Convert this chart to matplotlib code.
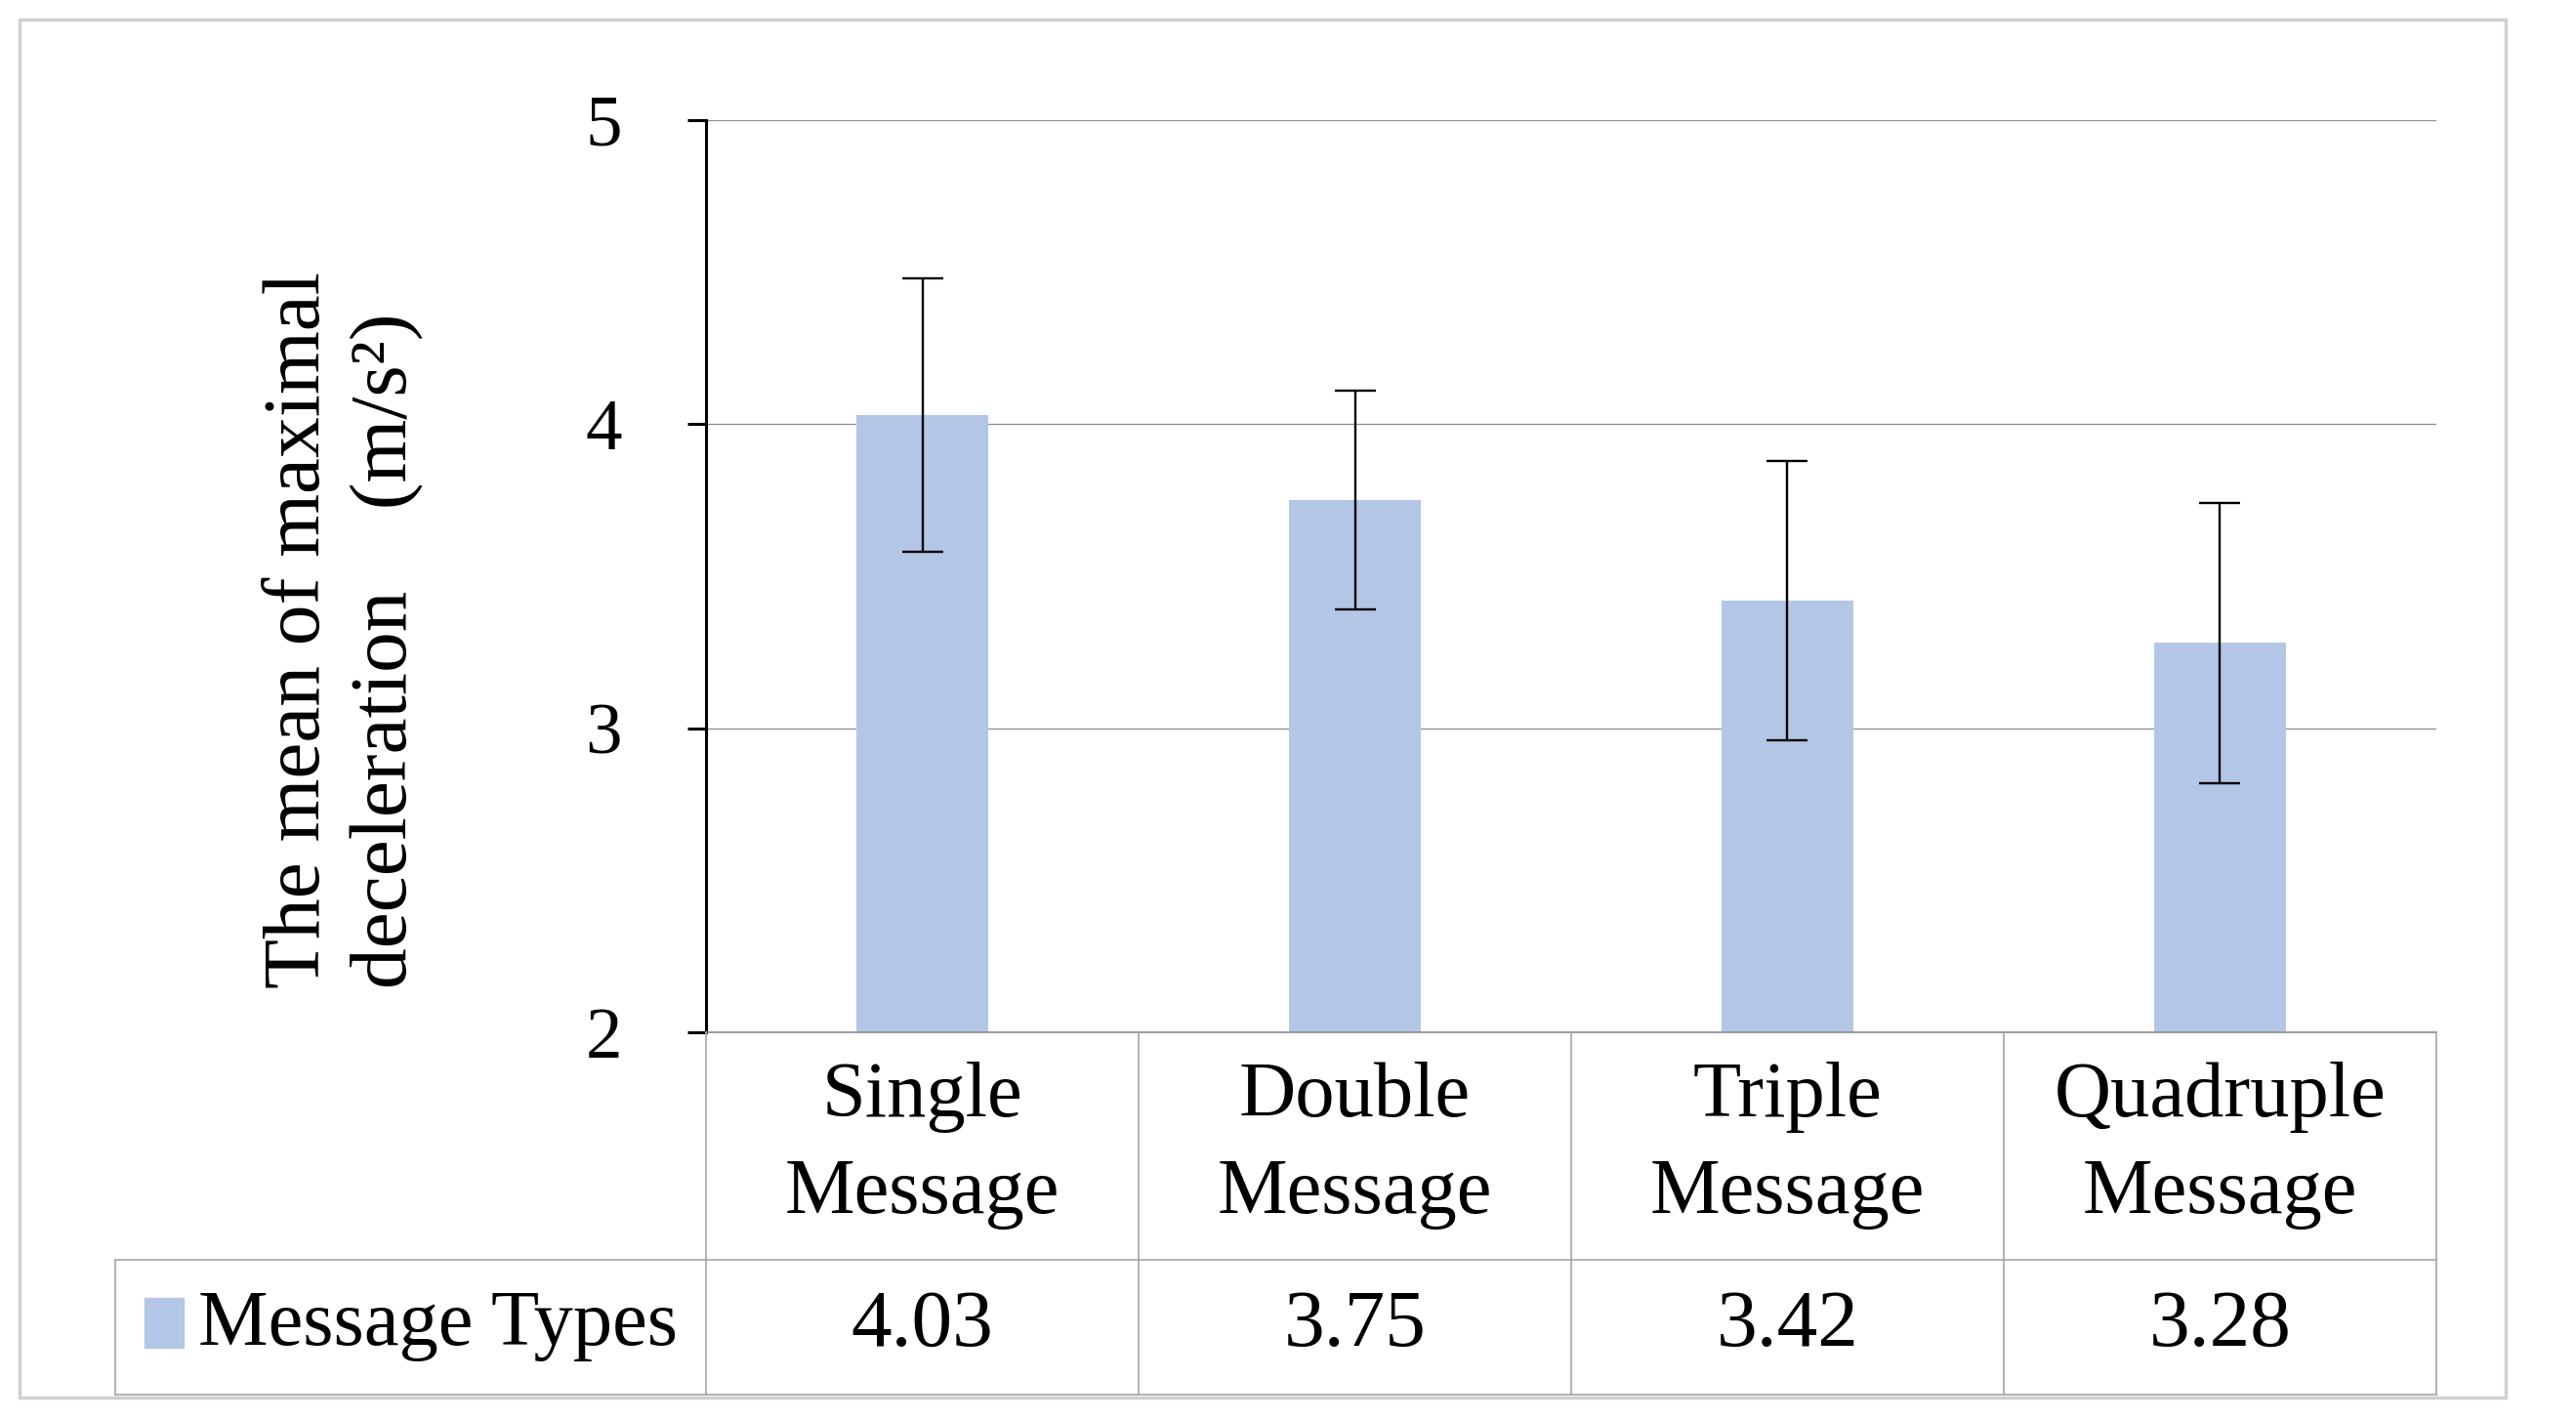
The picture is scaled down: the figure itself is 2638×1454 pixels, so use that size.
import matplotlib.pyplot as plt
import matplotlib.transforms as mtrans
from matplotlib.lines import Line2D
from matplotlib.patches import Rectangle

# data
categories = ["Single\nMessage", "Double\nMessage", "Triple\nMessage", "Quadruple\nMessage"]
means = [4.03, 3.75, 3.42, 3.28]
errors = [0.45, 0.36, 0.46, 0.46]
value_labels = ["4.03", "3.75", "3.42", "3.28"]
series_name = "Message Types"
yticks = [2, 3, 4, 5]

plt.rcParams['font.family'] = ['Liberation Serif', 'Noto Sans CJK SC']

W, H = 2638, 1454
fy = lambda px: 1 - px / H   # pixel row -> figure fraction
fx = lambda px: px / W

fig = plt.figure(figsize=(W / 100, H / 100), dpi=100)
ax = fig.add_axes([fx(723), fy(1057), fx(2495) - fx(723), fy(123) - fy(1057)])

bar_color = '#b4c6e6'
x = range(len(means))
ax.bar(x, means, width=0.305, color=bar_color, zorder=2,
       yerr=errors, capsize=15,
       error_kw=dict(elinewidth=1.7, capthick=1.7, ecolor='black', zorder=3))

ax.set_xlim(-0.5, len(means) - 0.5)
ax.set_ylim(2, 5)
ax.set_yticks(yticks)
ax.set_yticklabels([str(t) for t in yticks], fontsize=54)
ax.set_xticks([])
ax.yaxis.grid(True, color='#8c8c8c', linewidth=0.9, zorder=0)
ax.set_axisbelow(True)
for s in ['top', 'right', 'bottom']:
    ax.spines[s].set_visible(False)
ax.spines['left'].set_linewidth(2.2)
ax.spines['left'].set_zorder(4)
ax.tick_params(axis='y', length=14, width=2.2, pad=48, color='black')

# data table under the plot
blend = mtrans.blended_transform_factory(ax.transData, fig.transFigure)
tcol = '#a6a6a6'
n = len(means)
y_top, y_mid, y_bot = fy(1057), fy(1290), fy(1428)
fig.add_artist(Line2D([fx(723), fx(2495)], [y_top, y_top], color='#8a8a8a', lw=1.2, transform=fig.transFigure))
for yy in (y_mid, y_bot):
    fig.add_artist(Line2D([fx(118), fx(2495)], [yy, yy], color=tcol, lw=1.2, transform=fig.transFigure))
fig.add_artist(Line2D([fx(723), fx(723)], [y_top, y_bot], color=tcol, lw=1.2, transform=fig.transFigure))
fig.add_artist(Line2D([fx(118), fx(118)], [y_mid, y_bot], color=tcol, lw=1.2, transform=fig.transFigure))
for i in range(n):
    fig.add_artist(Line2D([i + 0.5, i + 0.5], [y_top, y_bot], color=tcol, lw=1.2, transform=blend))

for i, (cat, val) in enumerate(zip(categories, value_labels)):
    fig.text(i, fy(1173), cat, transform=blend, ha='center', va='center',
             fontsize=58, linespacing=1.45)
    fig.text(i, fy(1358), val, transform=blend, ha='center', va='center', fontsize=60)

fig.add_artist(Rectangle((fx(148), fy(1380)), fx(40), 51 / H, color=bar_color,
                         transform=fig.transFigure))
fig.text(fx(203), fy(1358), series_name, ha='left', va='center', fontsize=58)

# y label, two lines, rotated
fig.text(fx(352), fy(1012), "The mean of maximal\ndeceleration\u3000(m/s²)",
         rotation=90, ha='center', va='bottom', multialignment='left',
         fontsize=60, linespacing=1.25)

# light outer frame
fig.add_artist(Rectangle((fx(20), fy(1431)), fx(2566) - fx(20), (1431 - 20) / H,
                         fill=False, ec='#cfcfcf', lw=2.5, transform=fig.transFigure))

fig.savefig('out.png', dpi=100)
